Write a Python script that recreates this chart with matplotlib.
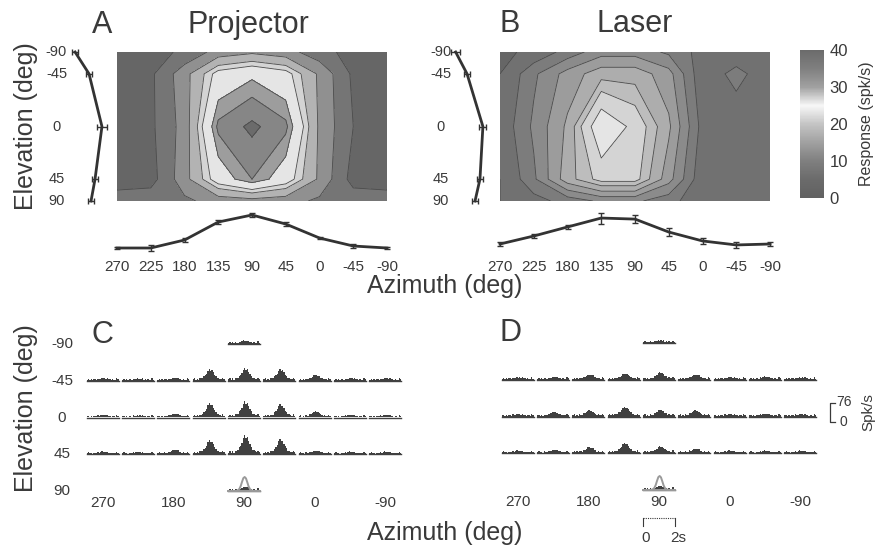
import numpy as np
import matplotlib
matplotlib.use("Agg")
import matplotlib.pyplot as plt
from matplotlib.colors import LinearSegmentedColormap, Normalize
from matplotlib.cm import ScalarMappable

plt.rcParams['font.family'] = ['Liberation Sans', 'DejaVu Sans']

W, H = 889, 548
INK = '#3a3a3a'

# grid of stimulus directions
azimuth = [270, 225, 180, 135, 90, 45, 0, -45, -90]
elevation = [-90, -45, 0, 45, 90]
az_labels_psth = [270, 180, 90, 0, -90]

# response maps (rows = elevation, cols = azimuth), spk/s
projector_map = np.array([
    [2, 3, 6, 12, 14, 12, 7, 3, 2],
    [3, 4, 13, 25, 28, 25, 14, 4, 3],
    [3, 4, 12, 33, 37, 33, 14, 5, 3],
    [2, 3, 13, 26, 32, 26, 14, 3, 2],
    [8, 8, 9, 12, 13, 12, 9, 8, 8],
])
laser_map = np.array([
    [4, 6, 9, 12, 12, 10, 7, 6, 6],
    [5, 10, 14, 17, 17, 14, 6, 9, 6],
    [6, 11, 16, 26, 22, 16, 7, 6, 6],
    [5, 10, 17, 21, 21, 14, 6, 6, 6],
    [5, 7, 9, 11, 11, 9, 6, 6, 6],
])

# marginal tuning curves (mean, sem)
proj_az_mean = [3.4, 3.4, 10.2, 25.5, 31.5, 23.8, 11.9, 5.1, 3.4]
proj_az_err = [1.2, 2.5, 1.5, 1.5, 1.5, 1.5, 1.2, 1.5, 1.2]
proj_el_mean = [6.0, 17.9, 28.9, 23.0, 19.6]
proj_el_err = [2.5, 2.5, 4.5, 2.5, 2.5]
laser_az_mean = [6.8, 13.6, 21.3, 28.9, 28.0, 17.0, 9.4, 6.0, 6.8]
laser_az_err = [1.7, 1.5, 1.5, 4.7, 3.4, 3.4, 2.5, 2.5, 1.7]
laser_el_mean = [4.8, 14.5, 28.0, 25.5, 21.3]
laser_el_err = [4.0, 2.5, 3.0, 2.5, 2.5]

# PSTH peak rates (rows = elevation -45, 0, 45), spk/s
proj_psth_peak = [
    [5, 3, 6, 42, 46, 42, 18, 5, 5],
    [5, 3, 10, 52, 60, 48, 20, 5, 5],
    [5, 3, 13, 52, 72, 56, 8, 5, 5],
]
proj_pole_peak = [8, 12]
laser_psth_peak = [
    [4, 6, 16, 20, 26, 16, 5, 8, 4],
    [4, 13, 20, 34, 22, 20, 4, 5, 4],
    [4, 8, 20, 36, 24, 14, 5, 4, 5],
]
laser_pole_peak = [5, 10]

# typical PSTH shapes over the 2 s window (normalised)
resp_shape = [0.04, 0.06, 0.03, 0.08, 0.05, 0.1, 0.12, 0.18, 0.28, 0.42, 0.55, 0.78,
              1.0, 0.82, 0.9, 0.62, 0.5, 0.34, 0.22, 0.15, 0.1, 0.08, 0.06, 0.05]
base_shape = [0.5, 0.9, 0.4, 0.7, 0.3, 0.8, 0.6, 0.4, 0.9, 0.5, 0.7, 1.0,
              0.6, 0.8, 0.5, 0.9, 0.4, 0.6, 0.3, 0.7, 0.5, 0.4, 1.2, 0.6]
stim_profile = [0, 0, 0, 0, 0, 0, 0.02, 0.06, 0.15, 0.35, 0.65, 0.92,
                1.0, 0.9, 0.62, 0.32, 0.14, 0.05, 0.02, 0, 0, 0, 0, 0]

# grayscale rendering of the colour map
gray_pts = [(0, 0.38), (0.125, 0.42), (0.25, 0.5), (0.375, 0.63), (0.5, 0.77),
            (0.625, 0.97), (0.75, 0.63), (0.875, 0.5), (1.0, 0.42)]
cmap = LinearSegmentedColormap.from_list('jetgray', [(p, (g, g, g)) for p, g in gray_pts])
norm = Normalize(0, 40)
proj_levels = [0, 5, 10, 15, 20, 23, 29, 32, 36, 46]
laser_levels = [0, 5, 8, 10.5, 13, 15.5, 18, 20, 23, 29]

fig = plt.figure(figsize=(W / 100, H / 100), dpi=100)


def px_axes(x0, y0, x1, y1):
    return fig.add_axes([x0 / W, 1 - y1 / H, (x1 - x0) / W, (y1 - y0) / H])


def ftext(x, y, s, **kw):
    kw.setdefault('color', INK)
    fig.text(x / W, 1 - y / H, s, **kw)


sin_el = np.sin(np.radians(elevation))


def map_panel(hx0, elx0, lab_x, data, levels, az_mean, az_err, el_mean, el_err):
    # contour map
    ax = px_axes(hx0, 52, hx0 + 270, 201)
    X, Y = np.meshgrid(azimuth, sin_el)
    ax.contourf(X, Y, data, levels=levels, cmap=cmap, norm=norm)
    ax.contour(X, Y, data, levels=levels[1:-1], colors='#4a4a4a', linewidths=0.6)
    ax.set_xlim(270, -90)
    ax.set_ylim(1, -1)
    ax.axis('off')

    # elevation tuning
    ae = px_axes(elx0, 52, elx0 + 47, 201)
    ae.errorbar(el_mean, sin_el, xerr=el_err, color='#333333', lw=2, capsize=2.5,
                elinewidth=1, clip_on=False)
    ae.set_xlim(0, 40)
    ae.set_ylim(1, -1)
    ae.axis('off')
    for e, s in zip(elevation, sin_el):
        ae.text(lab_x, s, str(e), ha='center', va='center', fontsize=10.5,
                color=INK, clip_on=False)

    # azimuth tuning
    aa = px_axes(hx0, 205, hx0 + 270, 252)
    aa.errorbar(azimuth, az_mean, yerr=az_err, color='#333333', lw=2, capsize=2.5,
                elinewidth=1, clip_on=False)
    aa.set_xlim(270, -90)
    aa.set_ylim(0, 40)
    aa.axis('off')
    for a in azimuth:
        aa.text(a, -12.5, str(a), ha='center', va='center', fontsize=11, color=INK)
    return ax


map_panel(117, 68, -9.8, projector_map, proj_levels,
          proj_az_mean, proj_az_err, proj_el_mean, proj_el_err)
map_panel(500, 450, -8.0, laser_map, laser_levels,
          laser_az_mean, laser_az_err, laser_el_mean, laser_el_err)

# colorbar
cax = px_axes(800, 50, 824, 198)
cb = fig.colorbar(ScalarMappable(norm=norm, cmap=cmap), cax=cax, ticks=[0, 10, 20, 30, 40])
cb.outline.set_visible(False)
cax.tick_params(length=0, labelsize=12, labelcolor=INK, pad=4)
cb.set_label('Response (spk/s)', fontsize=11.5, color=INK, labelpad=8)

# titles and axis labels, top
ftext(102, 33, 'A', fontsize=22, ha='center', va='baseline')
ftext(248, 33, 'Projector', fontsize=22, ha='center', va='baseline')
ftext(510, 32, 'B', fontsize=22, ha='center', va='baseline')
ftext(635, 32, 'Laser', fontsize=22, ha='center', va='baseline')
ftext(26, 126, 'Elevation (deg)', fontsize=18, rotation=90, ha='center', va='center')
ftext(445, 286, 'Azimuth (deg)', fontsize=18, ha='center', va='center')

# PSTH panels
ROW_GAP = 147  # spk/s units between rows (4 spk/s per pixel)


def psth_panel(x0, top_base, peaks, pole_peaks, base_rate):
    # axes where 1 px = 4 spk/s vertically, 1 column per azimuth
    ax = px_axes(x0, top_base - 20, x0 + 318, top_base + ROW_GAP + 10)
    ax.set_xlim(0, 9)
    ax.set_ylim(-4 * ROW_GAP - 40, 80)
    ax.axis('off')
    nb = len(resp_shape)
    edges = np.linspace(0.05, 0.95, nb + 1)
    centers = 0.5 * (edges[:-1] + edges[1:])
    for r, el in enumerate(elevation):
        for c, az in enumerate(azimuth):
            if el in (-90, 90):
                if az != 90:
                    continue
                peak = pole_peaks[0 if el == -90 else 1]
            else:
                peak = peaks[r - 1][c]
            rate = base_rate * np.array(base_shape) + peak * np.array(resp_shape)
            y0 = -r * ROW_GAP
            ys = np.append(rate, rate[-1]) + y0
            ax.fill_between(c + edges, y0, ys, step='post', color='#404040', lw=0)
            ax.plot([c + edges[0], c + edges[-1]], [y0, y0], color='#404040', lw=1.0)
            if el == 90:
                ax.plot(c + centers, y0 + np.array(stim_profile) * 56, color='#9a9a9a', lw=1.4)
                ax.plot([c + edges[0], c + edges[-1]], [y0 + 1, y0 + 1], color='#9a9a9a', lw=1.4)
    for a in az_labels_psth:
        c = azimuth.index(a)
        ax.text(c + 0.5, -4 * ROW_GAP - 48, str(a), ha='center', va='center',
                fontsize=11, color=INK, clip_on=False)
    return ax


axc = psth_panel(85, 344, proj_psth_peak, proj_pole_peak, 8)
axd = psth_panel(500, 343, laser_psth_peak, laser_pole_peak, 8)

# elevation labels for C
for r, el in enumerate(elevation):
    axc.text(-0.65, -r * ROW_GAP, str(el), ha='center', va='center', fontsize=11,
             color=INK, clip_on=False)

ftext(102, 335, 'C', fontsize=22, ha='center', va='center')
ftext(511, 333, 'D', fontsize=22, ha='center', va='center')
ftext(26, 408, 'Elevation (deg)', fontsize=18, rotation=90, ha='center', va='center')
ftext(445, 533, 'Azimuth (deg)', fontsize=18, ha='center', va='center')

# rate scale bar (D)
sb_x = 9.35
sb_lo = -2 * ROW_GAP - 20
axd.plot([sb_x + 0.12, sb_x, sb_x, sb_x + 0.12], [sb_lo + 76, sb_lo + 76, sb_lo, sb_lo],
         color=INK, lw=0.9, clip_on=False)
axd.text(sb_x + 0.18, sb_lo + 80, '76', fontsize=10, color=INK, va='center', clip_on=False)
axd.text(sb_x + 0.26, sb_lo - 2, '0', fontsize=10, color=INK, va='center', clip_on=False)
axd.text(10.42, sb_lo + 38, 'Spk/s', fontsize=11, color=INK, rotation=90,
         ha='center', va='center', clip_on=False)

# time scale bar (D), 0-2 s under azimuth 90
c = azimuth.index(90)
tb_y = -4 * ROW_GAP - 110
axd.plot([c + 0.05, c + 0.95], [tb_y, tb_y], color=INK, lw=0.8, ls=(0, (1, 1)), clip_on=False)
axd.plot([c + 0.05, c + 0.05], [tb_y, tb_y - 34], color=INK, lw=0.8, clip_on=False)
axd.plot([c + 0.95, c + 0.95], [tb_y, tb_y - 34], color=INK, lw=0.8, clip_on=False)
axd.text(c + 0.12, tb_y - 80, '0', fontsize=11, color=INK, ha='center', va='center', clip_on=False)
axd.text(c + 1.05, tb_y - 80, '2s', fontsize=11, color=INK, ha='center', va='center', clip_on=False)

fig.savefig('out.png', dpi=100)
